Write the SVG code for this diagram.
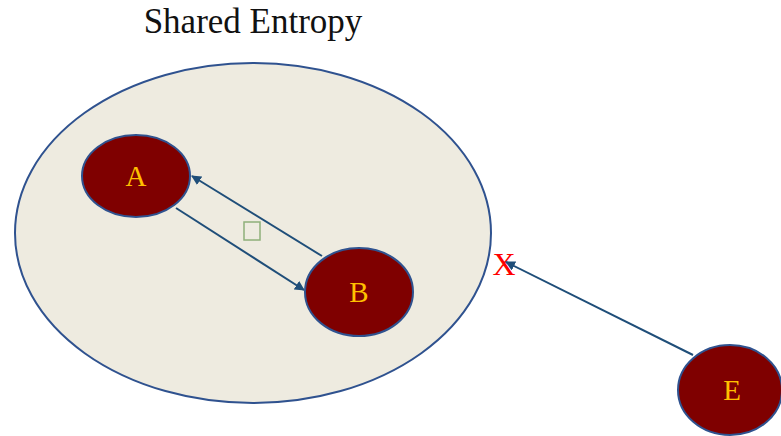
<svg xmlns="http://www.w3.org/2000/svg" width="781" height="436" viewBox="0 0 781 436">
<style>
.node{fill:#7F0000;stroke:#2F528F;stroke-width:2}
.lbl{font-family:"Liberation Serif",serif;font-size:29px;fill:#FFC000;text-anchor:middle}
.conn{stroke:#1F4E79;stroke-width:2;fill:none;marker-end:url(#ah)}
</style>
<defs>
<marker id="ah" viewBox="0 0 10 10" refX="9" refY="5" markerWidth="5" markerHeight="5" orient="auto">
<path d="M0,0 L10,5 L0,10 z" fill="#1F4E79"/>
</marker>
</defs>
<rect width="781" height="436" fill="#fff"/>
<text x="253" y="33" font-family="Liberation Serif,serif" font-size="35" text-anchor="middle" fill="#111">Shared Entropy</text>
<g id="shared">
<ellipse cx="253" cy="233" rx="238" ry="170" fill="#EEEBE0" stroke="#2F528F" stroke-width="2"/>
</g>
<text x="504" y="275" font-family="Liberation Serif,serif" font-size="32" fill="#FF0000" text-anchor="middle">X</text>
<g id="connectors">
<line class="conn" x1="176" y1="208" x2="304" y2="290"/>
<line class="conn" x1="322" y1="256" x2="192" y2="176"/>
<line class="conn" x1="693" y1="355" x2="506" y2="262"/>
</g>
<rect x="244" y="222" width="16" height="18" fill="none" stroke="#8FB07A" stroke-width="1.5"/>
<g id="A"><ellipse class="node" cx="136" cy="176" rx="54" ry="41"/><text class="lbl" x="136" y="186">A</text></g>
<g id="B"><ellipse class="node" cx="359" cy="292" rx="54" ry="44"/><text class="lbl" x="359" y="302">B</text></g>
<g id="E"><ellipse class="node" cx="730" cy="390" rx="52" ry="45"/><text class="lbl" x="732" y="400">E</text></g>
</svg>
